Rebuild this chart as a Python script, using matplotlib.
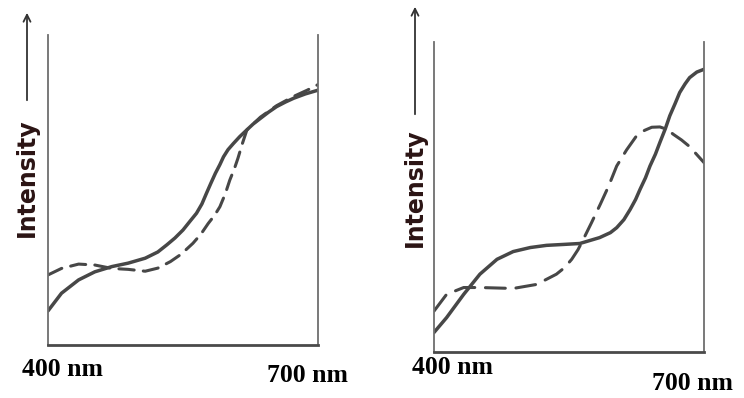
#!/usr/bin/env python
"""Two sketched spectra (400-700 nm), solid vs dashed, in open-topped frames."""

import matplotlib

matplotlib.use("Agg")
import matplotlib.pyplot as plt

W, H = 744, 398          # output size in pixels (dpi 100)
LINE = "#474747"
FRAME = "#6e6e6e"

# --- left panel (intensity as fraction of frame height)
left_solid_nm = [400, 415, 434, 452, 471, 489, 508, 522, 532, 541, 550, 558,
                 565, 571, 576, 581, 586, 591, 595, 600, 606, 613, 621, 628,
                 636, 645, 654, 664, 673, 686, 700]
left_solid = [0.110, 0.167, 0.210, 0.236, 0.253, 0.264, 0.280, 0.300, 0.323,
              0.345, 0.371, 0.400, 0.425, 0.455, 0.489, 0.522, 0.554, 0.582,
              0.607, 0.630, 0.650, 0.672, 0.694, 0.713, 0.731, 0.751, 0.769,
              0.784, 0.796, 0.810, 0.822]
left_dash_nm = [400, 415, 434, 452, 471, 489, 508, 522, 536, 548, 561, 570,
                578, 585, 591, 597, 602, 607, 611, 616, 621, 636, 654, 673,
                688, 700]
left_dash = [0.226, 0.247, 0.261, 0.258, 0.247, 0.244, 0.238, 0.248, 0.269,
             0.293, 0.328, 0.358, 0.392, 0.418, 0.446, 0.488, 0.532, 0.568,
             0.602, 0.650, 0.694, 0.735, 0.772, 0.802, 0.822, 0.840]

# --- right panel
right_solid_nm = [400, 414, 433, 451, 470, 488, 507, 525, 544, 562, 584, 596,
                  603, 611, 618, 624, 629, 635, 640, 646, 651, 657, 662, 668,
                  673, 679, 684, 692, 700]
right_solid = [0.063, 0.111, 0.186, 0.251, 0.299, 0.324, 0.337, 0.344, 0.347,
               0.350, 0.369, 0.385, 0.401, 0.427, 0.460, 0.492, 0.525, 0.562,
               0.600, 0.638, 0.676, 0.720, 0.762, 0.802, 0.837, 0.865, 0.885,
               0.903, 0.912]
right_dash_nm = [400, 414, 433, 451, 488, 514, 536, 545, 553, 560, 566, 575,
                 585, 594, 603, 614, 625, 634, 642, 651, 659, 666, 675, 683,
                 691, 700]
right_dash = [0.132, 0.186, 0.208, 0.208, 0.205, 0.218, 0.251, 0.272, 0.299,
              0.330, 0.364, 0.417, 0.478, 0.535, 0.600, 0.652, 0.697, 0.715,
              0.725, 0.726, 0.718, 0.702, 0.684, 0.665, 0.640, 0.611]

x_label_left = "400 nm"
x_label_right = "700 nm"
y_label = "Intensity"


def px(x, y):
    """Pixel position (from top-left) -> figure fraction."""
    return x / W, 1 - y / H


def panel(fig, box, solid_x, solid_y, dash_x, dash_y, dash):
    x0, y0, x1, y1 = box
    ax = fig.add_axes([x0 / W, 1 - y1 / H, (x1 - x0) / W, (y1 - y0) / H])
    ax.plot(solid_x, solid_y, color=LINE, lw=2.5, solid_capstyle="round",
            solid_joinstyle="round")
    ax.plot(dash_x, dash_y, color=LINE, lw=2.2, linestyle=(0, dash),
            dash_capstyle="round", dash_joinstyle="round")
    ax.set_xlim(400, 700)
    ax.set_ylim(0, 1)
    ax.set_xticks([])
    ax.set_yticks([])
    ax.spines["top"].set_visible(False)
    for side in ("left", "right"):
        ax.spines[side].set(color=FRAME, lw=1.3)
    ax.spines["bottom"].set(color="#4a4a4a", lw=2.0)
    ax.patch.set_visible(False)
    return ax


def labels(fig, arrow_x, arrow_y0, arrow_y1, text_y, nm_left, nm_right):
    fig.add_artist(matplotlib.patches.FancyArrowPatch(
        px(arrow_x, arrow_y0), px(arrow_x, arrow_y1),
        transform=fig.transFigure, arrowstyle="->,head_length=5,head_width=2.5",
        color="#333333", lw=1.3))
    fig.text(*px(arrow_x, text_y), y_label, rotation=90, ha="center",
             va="center", fontsize=17, fontweight="bold", color="#2b1414",
             family="DejaVu Sans")
    fig.text(*px(*nm_left), x_label_left, ha="center", va="center",
             fontsize=18.5, fontweight="bold", family="Liberation Serif")
    fig.text(*px(*nm_right), x_label_right, ha="center", va="center",
             fontsize=18.5, fontweight="bold", family="Liberation Serif")


def main() -> int:
    fig = plt.figure(figsize=(W / 100, H / 100), dpi=100)
    panel(fig, (48, 35, 318, 345), left_solid_nm, left_solid,
          left_dash_nm, left_dash, (5, 3))
    panel(fig, (434, 42, 704, 352), right_solid_nm, right_solid,
          right_dash_nm, right_dash, (6.5, 3.5))
    labels(fig, 27, 103, 10, 178, (62, 369), (307, 376))
    labels(fig, 415, 117, 4, 188, (452, 367), (692, 383))
    fig.savefig("out.png", dpi=100)
    plt.close(fig)
    return 0


if __name__ == "__main__":
    raise SystemExit(main())
